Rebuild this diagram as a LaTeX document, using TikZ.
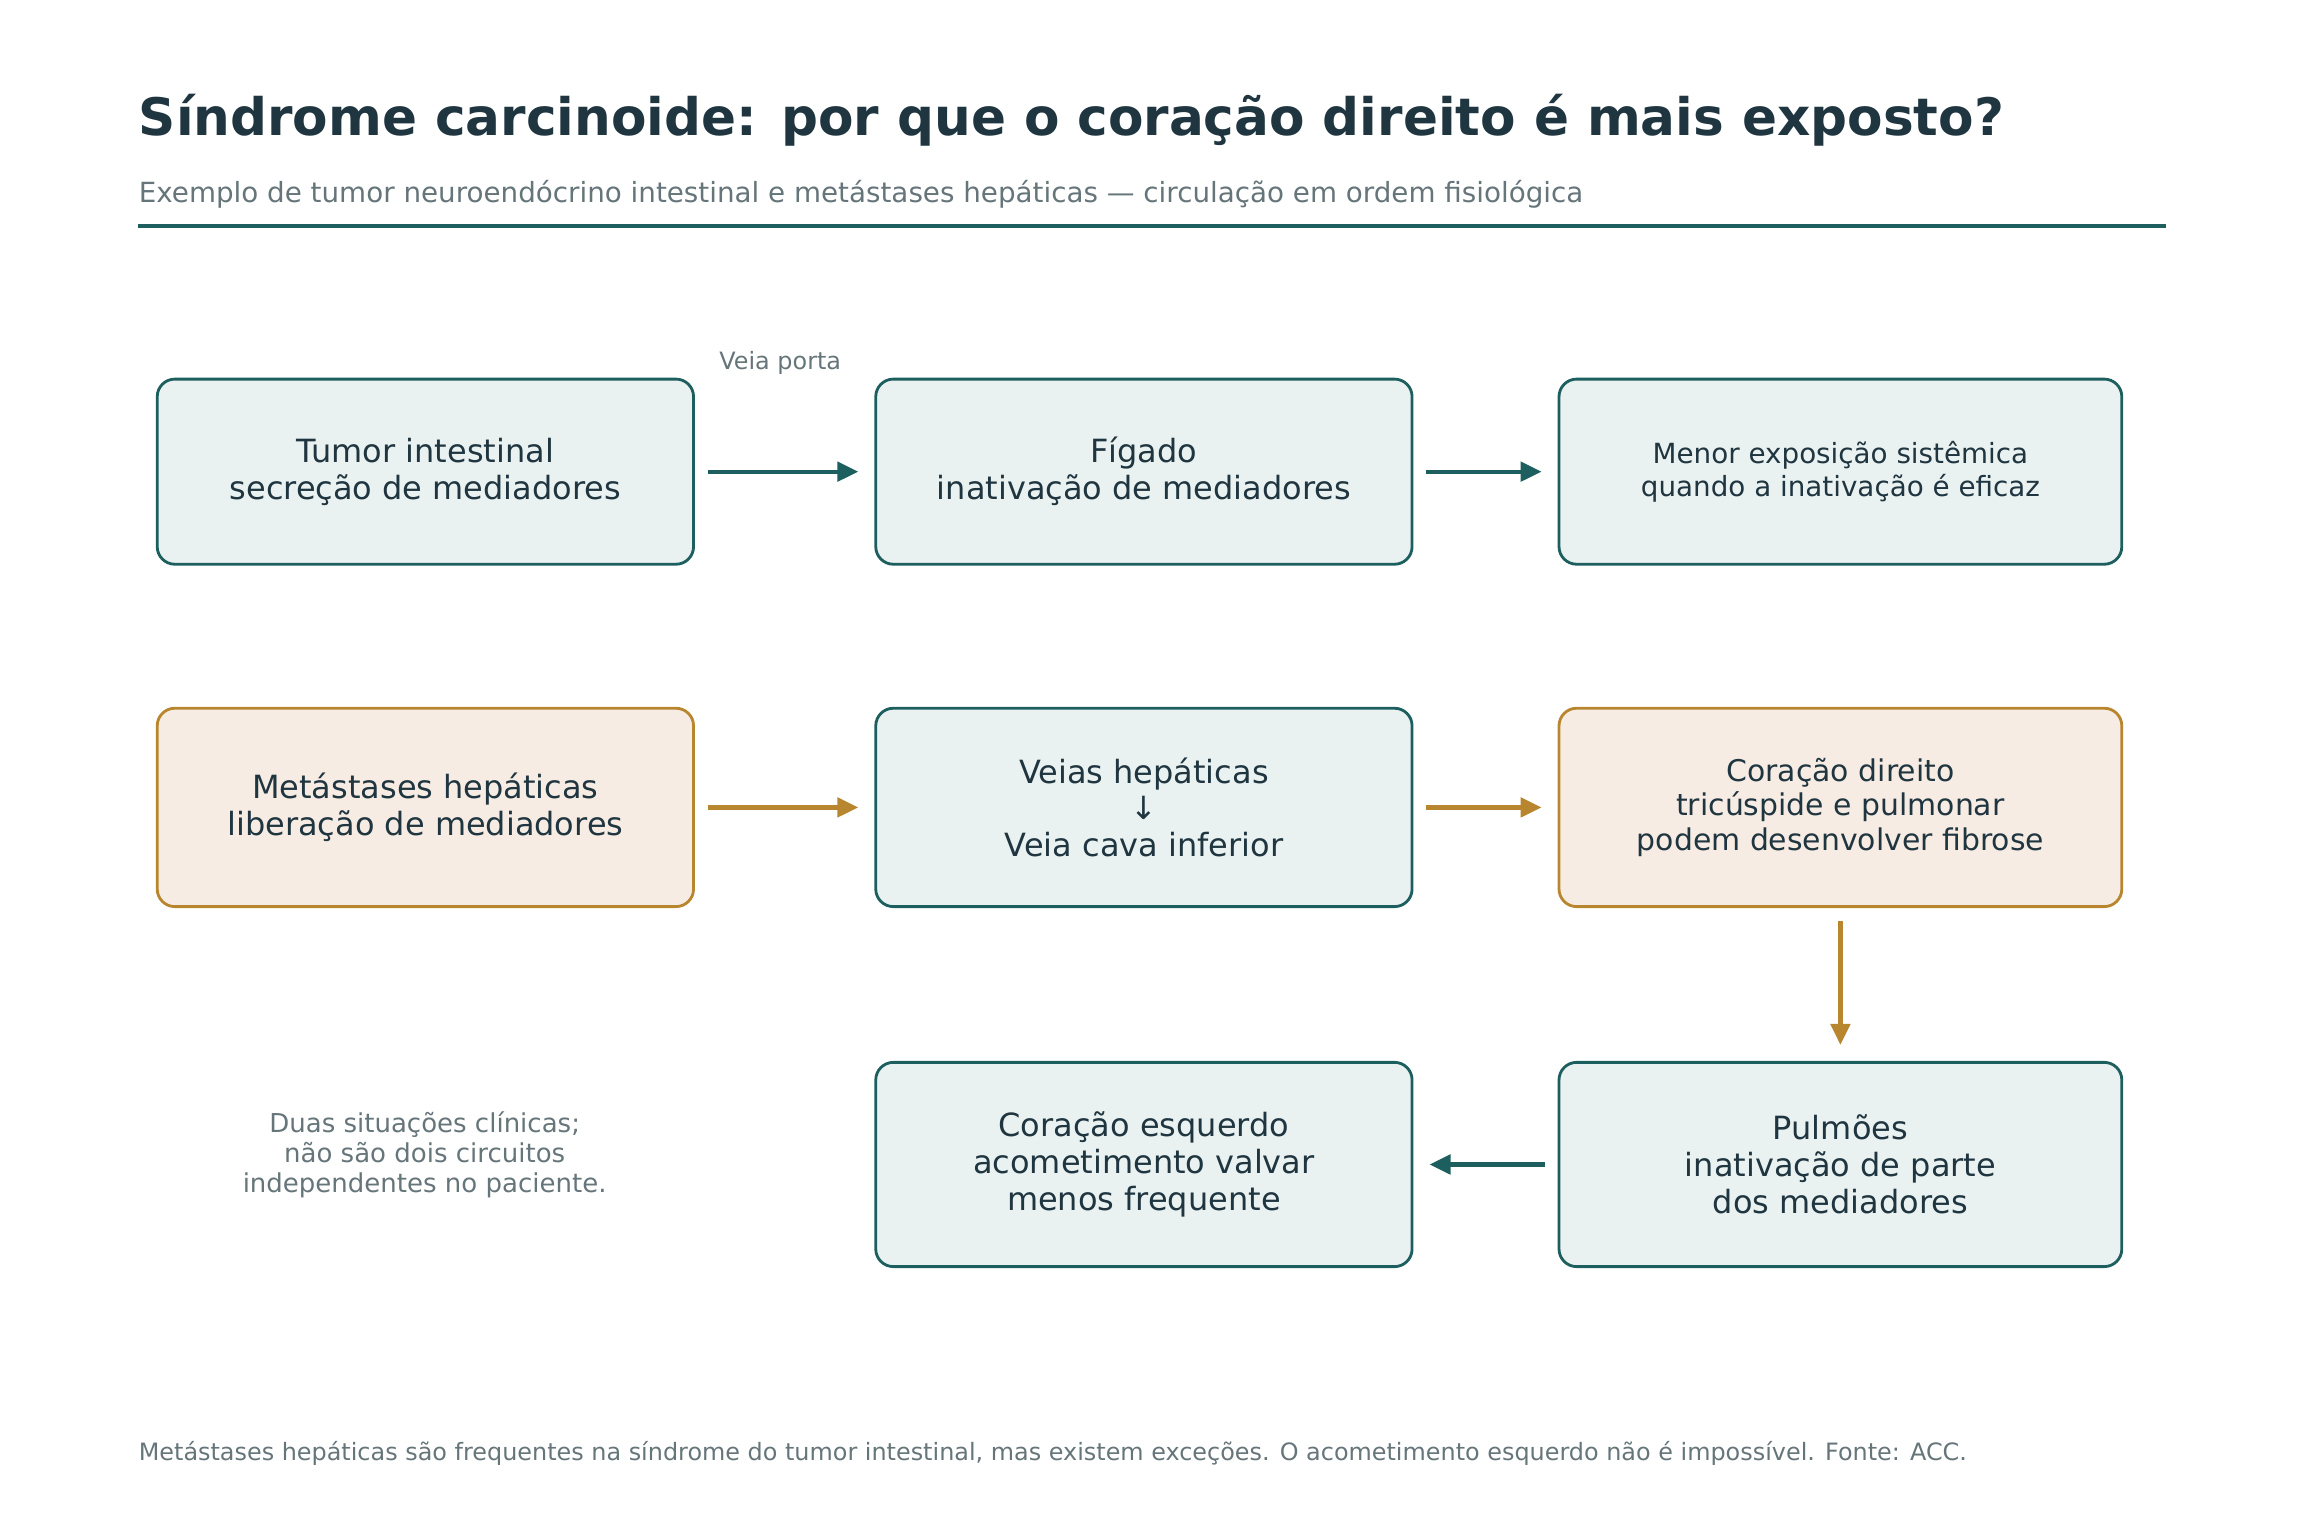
\documentclass[tikz,border=0pt]{standalone}
\usepackage{fontspec}
\setmainfont{DejaVu Sans}
\usetikzlibrary{arrows.meta}
\definecolor{teal}{HTML}{1D5E5E}
\definecolor{tealfill}{HTML}{EAF2F1}
\definecolor{gold}{HTML}{B8862F}
\definecolor{goldfill}{HTML}{F7ECE3}
\definecolor{ink}{HTML}{1F3540}
\definecolor{muted}{HTML}{66757A}
\tikzset{every node/.style={align=center}, >={Triangle[length=6pt,width=5.5pt]},
  box/.style={draw=teal, fill=tealfill, line width=0.8pt, rounded corners=5pt, text=ink, font=\fontsize{9.1}{10.5}\selectfont, inner sep=0pt},
  warm/.style={box, draw=gold, fill=goldfill},
  flow/.style={->, line width=1.2pt, teal, shorten <=0.13cm, shorten >=0.16cm},
  warmflow/.style={flow, gold}}

\begin{document}
\begin{tikzpicture}[x=0.014694cm, y=-0.014694cm]
            \useasboundingbox (0,0) rectangle (1568,1045);
            \node [anchor=base west, inner sep=0pt, text=ink, font=\fontsize{14.7}{17}\selectfont\bfseries] (title) at (94,92) {Síndrome carcinoide: por que o coração direito é mais exposto?};
            \node [anchor=base west, inner sep=0pt, text=muted, font=\fontsize{7.9}{9}\selectfont] (sub) at (94,138) {Exemplo de tumor neuroendócrino intestinal e metástases hepáticas — circulação em ordem fisiológica};
            \draw [teal, line width=1.2pt] (94,154) -- (1474,154);

            \node [box, minimum width=365*0.014694cm, minimum height=126*0.014694cm] (tumor) at (289.5,321) {Tumor intestinal\\secreção de mediadores};
            \node [box, minimum width=365*0.014694cm, minimum height=126*0.014694cm] (figado) at (778.5,321) {Fígado\\inativação de mediadores};
            \node [box, minimum width=383*0.014694cm, minimum height=126*0.014694cm, font=\fontsize{7.9}{9.6}\selectfont] (menor) at (1252.5,321) {Menor exposição sistêmica\\quando a inativação é eficaz};

            \node [warm, minimum width=365*0.014694cm, minimum height=135*0.014694cm] (meta) at (289.5,549.5) {Metástases hepáticas\\liberação de mediadores};
            \node [box, minimum width=365*0.014694cm, minimum height=135*0.014694cm] (veias) at (778.5,549.5) {Veias hepáticas\\↓\\Veia cava inferior};
            \node [warm, minimum width=383*0.014694cm, minimum height=135*0.014694cm, font=\fontsize{8.5}{9.9}\selectfont] (cordir) at (1252.5,549.5) {Coração direito\\tricúspide e pulmonar\\podem desenvolver fibrose};

            \node [box, minimum width=365*0.014694cm, minimum height=139*0.014694cm] (coresq) at (778.5,792.5) {Coração esquerdo\\acometimento valvar\\menos frequente};
            \node [box, minimum width=383*0.014694cm, minimum height=139*0.014694cm] (pulm) at (1252.5,792.5) {Pulmões\\inativação de parte\\dos mediadores};

            \node [text=muted, font=\fontsize{7.4}{8.5}\selectfont] (nota) at (289,786) {Duas situações clínicas;\\não são dois circuitos\\independentes no paciente.};
            \node [text=muted, font=\fontsize{6.8}{8}\selectfont] (porta) at (531,247) {Veia porta};
            \node [anchor=base west, inner sep=0pt, text=muted, font=\fontsize{6.8}{8}\selectfont] (fonte) at (94,994) {Metástases hepáticas são frequentes na síndrome do tumor intestinal, mas existem exceções. O acometimento esquerdo não é impossível. Fonte: ACC.};

            \draw [flow] (tumor) -- (figado);
            \draw [flow] (figado) -- (menor);
            \draw [warmflow] (meta) -- (veias);
            \draw [warmflow] (veias) -- (cordir);
            \draw [warmflow] (cordir) -- (pulm);
            \draw [flow] (pulm) -- (coresq);
\end{tikzpicture}
\end{document}
